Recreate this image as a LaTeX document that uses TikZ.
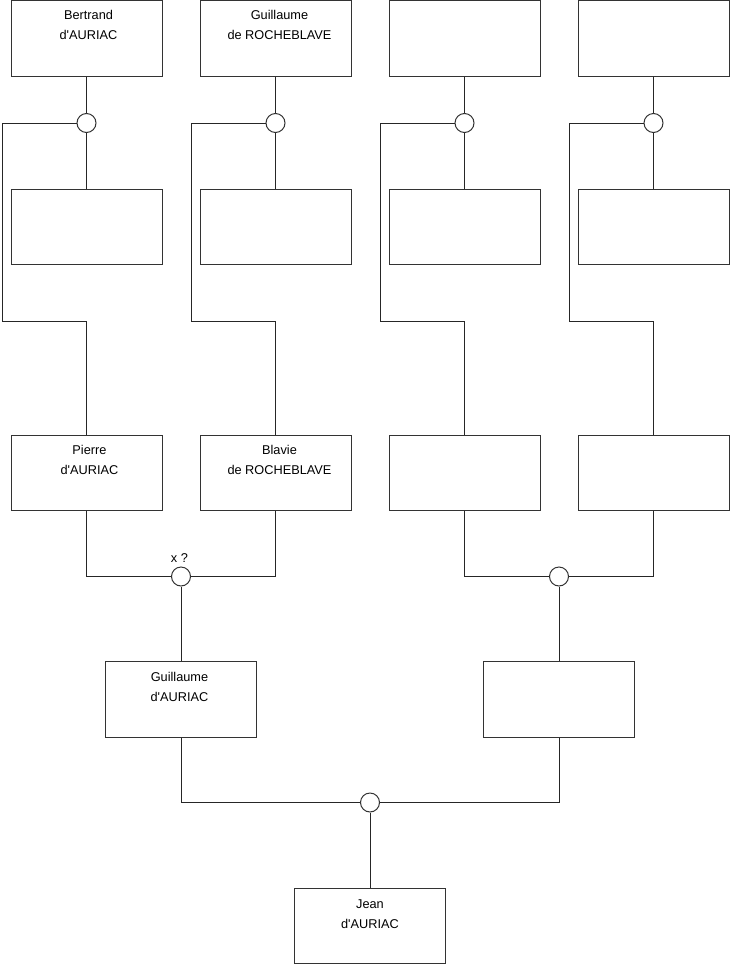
\documentclass[tikz,border=0pt]{standalone}
\usepackage{fontspec}
\setmainfont{Liberation Sans}[Ligatures=TeXOff]
\usetikzlibrary{calc}
\begin{document}
\begin{tikzpicture}[x=1pt,y=-1pt,
  personbox/.style={draw=black!80,line width=1pt,fill=white,minimum width=151pt,minimum height=75.5pt,inner sep=0pt},
  union/.style={draw=black!80,line width=1pt,fill=white,circle,minimum size=19pt,inner sep=0pt},
  link/.style={draw=black!85,line width=1pt},
  nametext/.style={font=\fontsize{12.75}{15}\selectfont,inner sep=0pt,anchor=base}]
\useasboundingbox (0,0) rectangle (740,975);
% row 1
\foreach \i/\cx in {1/86.5,2/275.5,3/464.5,4/653.5}{
  \node[personbox] (a\i) at (\cx,38.5) {};
  \node[union] (c\i) at (\cx,123) {};
  \node[personbox] (m\i) at (\cx,227) {};
  \node[personbox] (p\i) at (\cx,473) {};
  \coordinate (l\i) at (\cx-84.5,321);
  \draw[link] (a\i.south) -- (c\i.north);
  \draw[link] (c\i.south) -- (m\i.north);
  \draw[link] (c\i.west) -| (l\i) -| (p\i.north);
}
% row 3 unions
\node[union] (d1) at (181,576.5) {};
\node[union] (d2) at (559,576.5) {};
\node[personbox] (g1) at (181,699.5) {};
\node[personbox] (g2) at (559,699.5) {};
\node[union] (e) at (370,802.5) {};
\node[personbox] (j) at (370,926) {};
\draw[link] (p1.south) |- (d1.west);
\draw[link] (p2.south) |- (d1.east);
\draw[link] (p3.south) |- (d2.west);
\draw[link] (p4.south) |- (d2.east);
\draw[link] (d1.south) -- (g1.north);
\draw[link] (d2.south) -- (g2.north);
\draw[link] (g1.south) |- (e.west);
\draw[link] (g2.south) |- (e.east);
\draw[link] (e.south) -- (j.north);
% texts
\node[nametext] (ta1) at ([xshift=2pt,yshift=-19.5pt]a1.north) {Bertrand};
\node[nametext] (tb1) at ([xshift=2pt,yshift=-39.5pt]a1.north) {d'AURIAC};
\node[nametext] (ta2) at ([xshift=4pt,yshift=-19.5pt]a2.north) {Guillaume};
\node[nametext] (tb2) at ([xshift=4pt,yshift=-39.5pt]a2.north) {de ROCHEBLAVE};
\node[nametext] (tp1) at ([xshift=3pt,yshift=-20pt]p1.north) {Pierre};
\node[nametext] (tq1) at ([xshift=3pt,yshift=-40pt]p1.north) {d'AURIAC};
\node[nametext] (tp2) at ([xshift=4pt,yshift=-20pt]p2.north) {Blavie};
\node[nametext] (tq2) at ([xshift=4pt,yshift=-40pt]p2.north) {de ROCHEBLAVE};
\node[nametext] (tg1) at ([xshift=-1.5pt,yshift=-20pt]g1.north) {Guillaume};
\node[nametext] (th1) at ([xshift=-1.5pt,yshift=-40pt]g1.north) {d'AURIAC};
\node[nametext] (tj1) at ([yshift=-21pt]j.north) {Jean};
\node[nametext] (tj2) at ([yshift=-41pt]j.north) {d'AURIAC};
\node[nametext] (xq) at ([xshift=-1.5pt,yshift=14.5pt]d1.center) {x ?};
\end{tikzpicture}
\end{document}
